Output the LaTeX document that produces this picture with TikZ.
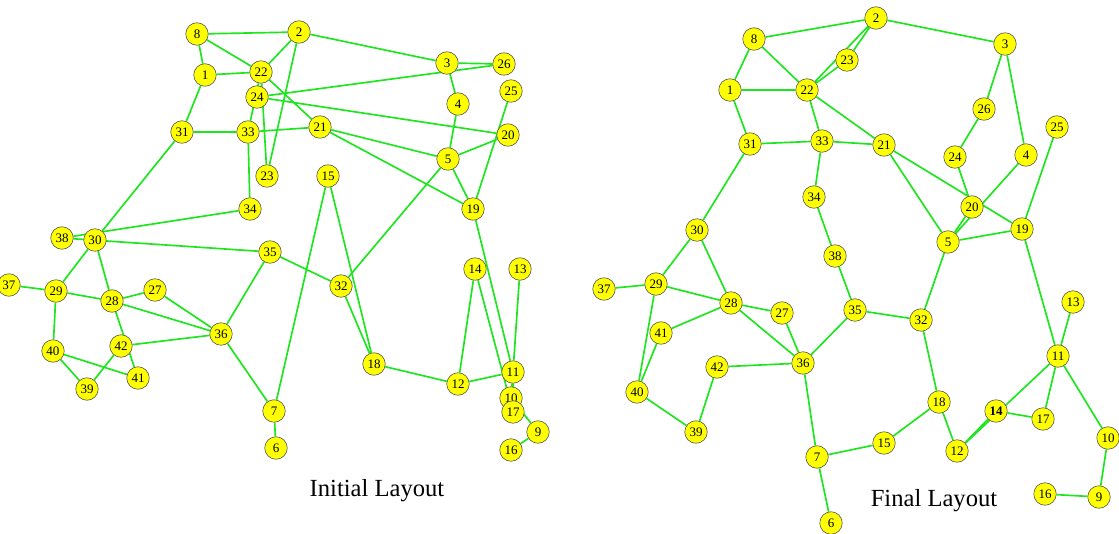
\documentclass[tikz,border=0pt]{standalone}
\usepackage{fontspec}
\setmainfont{Liberation Serif}
\usepackage{tikz}
\usetikzlibrary{backgrounds}
\definecolor{vgreen}{RGB}{30,230,30}
\definecolor{vyellow}{RGB}{255,255,0}
\tikzset{node/.style = {circle, draw=black!65, line width=0.35pt, fill=vyellow, minimum size=0.45cm, inner sep=0pt, font=\fontsize{7.4}{8}\selectfont},
         edge/.style = {draw=vgreen, line width=0.95pt},
         caption/.style = {font=\fontsize{14}{16}\selectfont}}

\begin{document}
\begin{tikzpicture}[x=0.02cm, y=-0.02cm]
        \useasboundingbox (0,0) rectangle (1119,534);

        % initial layout
        \node [node] (i1) at (205,75) {1};
        \node [node] (i2) at (299,32) {2};
        \node [node] (i3) at (447,63) {3};
        \node [node] (i4) at (458,104) {4};
        \node [node] (i5) at (448,159) {5};
        \node [node] (i6) at (276,448) {6};
        \node [node] (i7) at (274,411) {7};
        \node [node] (i8) at (197,34) {8};
        \node [node] (i9) at (538,432) {9};
        \node [node] (i10) at (511,398) {10};
        \node [node] (i11) at (513,372) {11};
        \node [node] (i12) at (458,384) {12};
        \node [node] (i13) at (520,269) {13};
        \node [node] (i14) at (475,269) {14};
        \node [node] (i15) at (328,176) {15};
        \node [node] (i16) at (511,450) {16};
        \node [node] (i17) at (513,412) {17};
        \node [node] (i18) at (374,364) {18};
        \node [node] (i19) at (473,209) {19};
        \node [node] (i20) at (508,135) {20};
        \node [node] (i21) at (320,127) {21};
        \node [node] (i22) at (261,72) {22};
        \node [node] (i23) at (267,176) {23};
        \node [node] (i24) at (257,97) {24};
        \node [node] (i25) at (511,91) {25};
        \node [node] (i26) at (504,64) {26};
        \node [node] (i27) at (155,290) {27};
        \node [node] (i28) at (112,301) {28};
        \node [node] (i29) at (56,291) {29};
        \node [node] (i30) at (95,240) {30};
        \node [node] (i31) at (182,132) {31};
        \node [node] (i32) at (341,286) {32};
        \node [node] (i33) at (248,132) {33};
        \node [node] (i34) at (250,209) {34};
        \node [node] (i35) at (270,252) {35};
        \node [node] (i36) at (221,334) {36};
        \node [node] (i37) at (9,285) {37};
        \node [node] (i38) at (62,238) {38};
        \node [node] (i39) at (87,389) {39};
        \node [node] (i40) at (53,351) {40};
        \node [node] (i41) at (138,378) {41};
        \node [node] (i42) at (121,346) {42};

        % final layout
        \node [node] (f1) at (730,90) {1};
        \node [node] (f2) at (876,18) {2};
        \node [node] (f3) at (1005,44) {3};
        \node [node] (f4) at (1026,155) {4};
        \node [node] (f5) at (948,242) {5};
        \node [node] (f6) at (831,523) {6};
        \node [node] (f7) at (817,457) {7};
        \node [node] (f8) at (754,39) {8};
        \node [node] (f9) at (1099,497) {9};
        \node [node] (f10) at (1108,438) {10};
        \node [node] (f11) at (1058,356) {11};
        \node [node] (f12) at (957,451) {12};
        \node [node] (f13) at (1073,302) {13};
        \node [node] (f14) at (996,411) {\textbf{14}};
        \node [node] (f15) at (884,443) {15};
        \node [node] (f16) at (1045,494) {16};
        \node [node] (f17) at (1043,419) {17};
        \node [node] (f18) at (939,402) {18};
        \node [node] (f19) at (1022,229) {19};
        \node [node] (f20) at (972,207) {20};
        \node [node] (f21) at (884,145) {21};
        \node [node] (f22) at (807,90) {22};
        \node [node] (f23) at (847,60) {23};
        \node [node] (f24) at (955,157) {24};
        \node [node] (f25) at (1057,127) {25};
        \node [node] (f26) at (984,109) {26};
        \node [node] (f27) at (782,313) {27};
        \node [node] (f28) at (731,303) {28};
        \node [node] (f29) at (656,284) {29};
        \node [node] (f30) at (697,230) {30};
        \node [node] (f31) at (750,144) {31};
        \node [node] (f32) at (921,320) {32};
        \node [node] (f33) at (822,141) {33};
        \node [node] (f34) at (814,197) {34};
        \node [node] (f35) at (855,310) {35};
        \node [node] (f36) at (803,363) {36};
        \node [node] (f37) at (604,289) {37};
        \node [node] (f38) at (835,256) {38};
        \node [node] (f39) at (696,432) {39};
        \node [node] (f40) at (637,392) {40};
        \node [node] (f41) at (661,333) {41};
        \node [node] (f42) at (717,367) {42};

        \node [caption] (initcap) at (377,491) {Initial Layout};
        \node [caption] (finalcap) at (934,501) {Final Layout};

        \begin{scope}[on background layer]
        \foreach \p in {i,f} {
            \draw [edge] (\p8) -- (\p2) -- (\p3) -- (\p26) -- (\p24) -- (\p20) -- (\p5) -- (\p19) -- (\p11) -- (\p10) -- (\p9) -- (\p16);
            \draw [edge] (\p8) -- (\p1) -- (\p22) -- (\p2) -- (\p23) -- (\p22) -- (\p8);
            \draw [edge] (\p1) -- (\p31) -- (\p33) -- (\p21) -- (\p22) -- (\p33) -- (\p34) -- (\p38) -- (\p35) -- (\p32) -- (\p18) -- (\p15) -- (\p7) -- (\p6);
            \draw [edge] (\p3) -- (\p4) -- (\p5) -- (\p21) -- (\p19) -- (\p25);
            \draw [edge] (\p5) -- (\p32);
            \draw [edge] (\p31) -- (\p30) -- (\p29) -- (\p28) -- (\p30);
            \draw [edge] (\p37) -- (\p29) -- (\p40) -- (\p41) -- (\p28) -- (\p27) -- (\p36) -- (\p28);
            \draw [edge] (\p40) -- (\p39) -- (\p42) -- (\p36) -- (\p35);
            \draw [edge] (\p36) -- (\p7);
            \draw [edge] (\p18) -- (\p12) -- (\p14) -- (\p17) -- (\p11) -- (\p13);
            \draw [edge] (\p12) -- (\p11);
        }
        \end{scope}
    \end{tikzpicture}
\end{document}
